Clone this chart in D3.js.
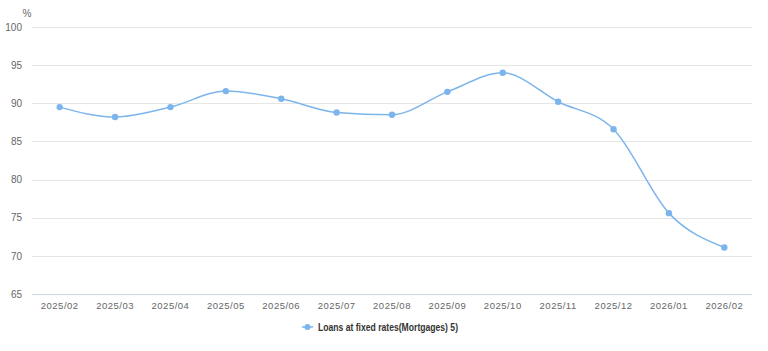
<!DOCTYPE html>
<html>
<head>
<meta charset="utf-8">
<script src="https://cdn.jsdelivr.net/npm/d3@7"></script>
<style>
  body { margin: 0; background: #fff; }
  text { font-family: "Liberation Sans", Arial, sans-serif; }
</style>
</head>
<body>
<div id="plot"></div>
<script>
let months = ['2025/02','2025/03','2025/04','2025/05','2025/06','2025/07','2025/08',
              '2025/09','2025/10','2025/11','2025/12','2026/01','2026/02'];
let values = [89.5, 88.2, 89.5, 91.6, 90.6, 88.8, 88.5, 91.5, 94.0, 90.2, 86.6, 75.6, 71.1];
let yTicks = [65, 70, 75, 80, 85, 90, 95, 100];
let seriesName = 'Loans at fixed rates(Mortgages) 5)';

let svgWidth = 768;
let svgHeight = 351;
let margin = { top: 27, right: 16, bottom: 57, left: 32 };
let width = svgWidth - margin.left - margin.right;
let height = svgHeight - margin.top - margin.bottom;
let color = '#7cb5ec';

let svg = d3.select('#plot')
            .append('svg')
            .attr('width', svgWidth)
            .attr('height', svgHeight);

let chart = svg.append('g')
               .attr('transform', `translate(${margin.left},${margin.top})`);

let x = d3.scaleBand()
          .domain(months)
          .range([0, width]);

let y = d3.scaleLinear()
          .domain([65, 100])
          .range([height, 0]);

// grid lines
chart.append('g')
     .selectAll('line')
     .data(yTicks)
     .join('line')
        .attr('x1', 0)
        .attr('x2', width)
        .attr('y1', d => Math.round(y(d)) + 0.5)
        .attr('y2', d => Math.round(y(d)) + 0.5)
        .attr('stroke', d => d === 65 ? '#ccd6eb' : '#e6e6e6')
        .attr('stroke-width', 1);

// y labels
let yAxis = d3.axisLeft(y).tickValues(yTicks).tickSize(0).tickPadding(10);
chart.append('g')
     .call(yAxis)
     .call(g => g.select('.domain').remove())
     .selectAll('text')
        .attr('fill', '#666')
        .style('font-family', '"Liberation Sans", Arial, sans-serif')
        .style('font-size', '10px');

// x labels
let xAxis = d3.axisBottom(x).tickSize(0).tickPadding(8);
chart.append('g')
     .attr('transform', `translate(0,${height})`)
     .call(xAxis)
     .call(g => g.select('.domain').remove())
     .selectAll('text')
        .attr('fill', '#666')
        .style('font-family', '"Liberation Sans", Arial, sans-serif')
        .style('font-size', '9.5px')
        .style('letter-spacing', '0.5px');

// unit
svg.append('text')
   .attr('x', 27)
   .attr('y', 17)
   .attr('text-anchor', 'middle')
   .attr('fill', '#666')
   .style('font-size', '10px')
   .text('%');

let pts = months.map((m, i) => [x(m) + x.bandwidth() / 2, y(values[i])]);

let line = d3.line().curve(d3.curveMonotoneX);

chart.append('path')
     .attr('d', line(pts))
     .attr('fill', 'none')
     .attr('stroke', color)
     .attr('stroke-width', 1.5);

chart.append('g')
     .selectAll('circle')
     .data(pts)
     .join('circle')
        .attr('cx', d => d[0])
        .attr('cy', d => d[1])
        .attr('r', 3.2)
        .attr('fill', color);

// legend
let legend = svg.append('g').attr('transform', 'translate(302,327)');
legend.append('line')
      .attr('x1', 0).attr('x2', 11)
      .attr('y1', 0).attr('y2', 0)
      .attr('stroke', color)
      .attr('stroke-width', 1.5);
legend.append('circle')
      .attr('cx', 5.5).attr('cy', 0).attr('r', 3)
      .attr('fill', color);
legend.append('text')
      .attr('x', 16)
      .attr('y', 3.5)
      .attr('fill', '#333')
      .attr('textLength', 140)
      .attr('lengthAdjust', 'spacingAndGlyphs')
      .style('font-size', '10px')
      .style('font-weight', 'bold')
      .text(seriesName);
</script>
</body>
</html>
